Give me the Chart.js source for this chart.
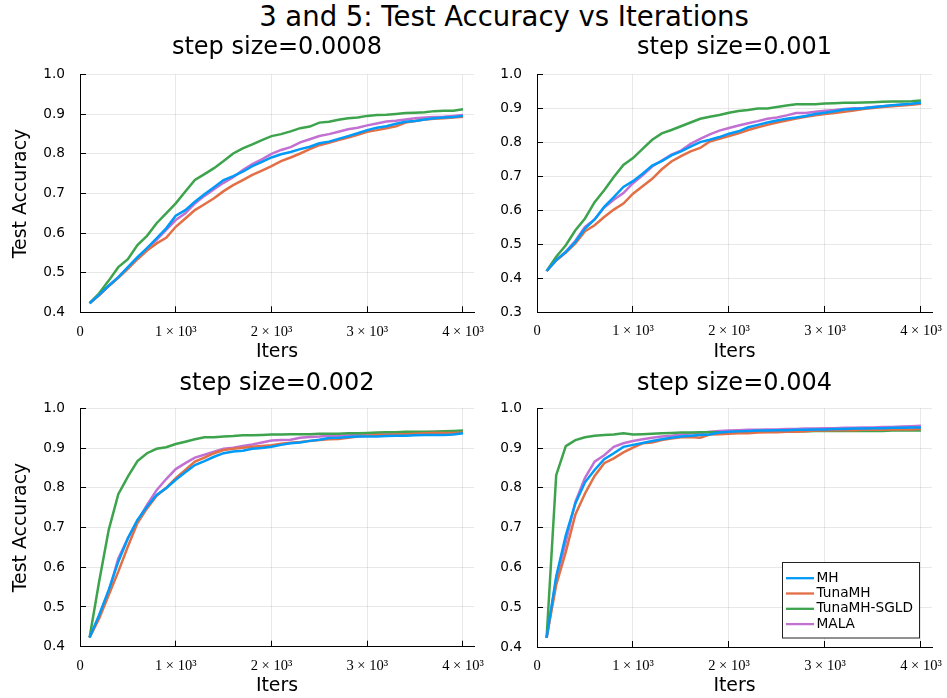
<!DOCTYPE html>
<html>
<head>
<meta charset="utf-8">
<script src="https://cdn.jsdelivr.net/npm/chart.js@4"></script>
<style>
  body { margin: 0; background: #fff; width: 947px; height: 698px; position: relative; overflow: hidden; font-family: "DejaVu Sans", sans-serif; }
  #title { position: absolute; left: 254px; width: 500px; top: 0; text-align: center; font-size: 27.5px; line-height: 32px; color: #000; white-space: nowrap; }
  canvas { position: absolute; }
</style>
</head>
<body>
<div id="title">3 and 5: Test Accuracy vs Iterations</div>
<canvas id="c1"></canvas>
<canvas id="c2"></canvas>
<canvas id="c3"></canvas>
<canvas id="c4"></canvas>
<script>
const iters = [100, 200, 300, 400, 500, 600, 700, 800, 900, 1000,
  1100, 1200, 1300, 1400, 1500, 1600, 1700, 1800, 1900, 2000,
  2100, 2200, 2300, 2400, 2500, 2600, 2700, 2800, 2900, 3000,
  3100, 3200, 3300, 3400, 3500, 3600, 3700, 3800, 3900, 4000];

const seriesNames = ["MH", "TunaMH", "TunaMH-SGLD", "MALA"];
const seriesColors = ["#009af9", "#e26f46", "#3da44d", "#c271d2"];
const stepSizes = ["0.0008", "0.001", "0.002", "0.004"];

const xTicks = [0, 1000, 2000, 3000, 4000];
const yTicks = [0.4, 0.5, 0.6, 0.7, 0.8, 0.9, 1.0];
const yTicksWide = [0.3, 0.4, 0.5, 0.6, 0.7, 0.8, 0.9, 1.0];

// step size = 0.0008
const mh0008 = [.423,.444,.467,.488,.514,.539,.562,.587,.612,.644,.658,.679,.698,.716,.734,.744,.755,.769,.780,.791,.799,.805,.812,.818,.827,.831,.838,.845,.852,.860,.866,.870,.876,.881,.883,.887,.890,.892,.893,.896];
const tuna0008 = [.423,.443,.466,.487,.510,.534,.556,.574,.588,.616,.637,.658,.673,.688,.706,.721,.734,.747,.758,.769,.782,.791,.801,.812,.822,.828,.835,.841,.848,.856,.860,.865,.870,.879,.883,.887,.889,.890,.892,.894];
const sgld0008 = [.423,.448,.480,.514,.534,.570,.593,.625,.650,.675,.705,.734,.749,.764,.782,.801,.814,.824,.835,.845,.850,.857,.865,.869,.879,.881,.886,.890,.892,.896,.898,.899,.901,.903,.904,.905,.908,.909,.909,.913];
const mala0008 = [.423,.444,.467,.489,.513,.537,.561,.583,.608,.633,.650,.675,.694,.711,.727,.741,.759,.774,.786,.800,.810,.817,.829,.837,.845,.850,.856,.862,.866,.872,.877,.882,.884,.887,.890,.892,.893,.894,.896,.898];

// step size = 0.001
const mh001 = [.421,.453,.477,.507,.546,.573,.610,.639,.669,.686,.708,.732,.745,.762,.774,.788,.801,.808,.816,.826,.833,.845,.852,.859,.865,.870,.874,.878,.884,.888,.892,.897,.899,.901,.904,.907,.910,.912,.914,.917];
const tuna001 = [.421,.452,.475,.502,.538,.556,.580,.602,.620,.649,.671,.693,.721,.744,.760,.774,.784,.803,.811,.819,.827,.837,.845,.852,.859,.865,.871,.876,.880,.884,.887,.891,.894,.899,.902,.905,.907,.909,.911,.914];
const sgld001 = [.421,.463,.497,.541,.576,.624,.659,.698,.734,.754,.781,.808,.827,.837,.848,.859,.870,.876,.881,.888,.893,.896,.900,.900,.905,.909,.913,.913,.913,.915,.916,.917,.917,.918,.919,.920,.921,.921,.922,.924];
const mala001 = [.421,.453,.478,.510,.551,.573,.608,.631,.651,.680,.703,.729,.747,.764,.776,.796,.811,.824,.835,.843,.850,.857,.863,.870,.874,.880,.887,.887,.891,.894,.896,.899,.901,.902,.905,.907,.909,.911,.913,.917];

// step size = 0.002
const mh002 = [.423,.480,.543,.614,.673,.719,.752,.782,.799,.820,.839,.857,.867,.878,.887,.891,.893,.898,.900,.903,.908,.912,.914,.918,.921,.925,.926,.928,.929,.929,.929,.930,.931,.931,.932,.933,.933,.933,.934,.937];
const tuna002 = [.423,.471,.530,.589,.652,.711,.748,.780,.800,.824,.845,.866,.876,.887,.895,.898,.901,.903,.905,.907,.911,.913,.915,.918,.920,.922,.923,.926,.929,.931,.933,.933,.934,.935,.936,.937,.938,.938,.938,.939];
const sgld002 = [.423,.564,.694,.784,.828,.867,.887,.898,.902,.910,.916,.922,.927,.927,.929,.930,.932,.932,.933,.934,.934,.935,.935,.935,.936,.936,.936,.937,.937,.938,.939,.940,.940,.941,.941,.941,.941,.942,.943,.944];
const mala002 = [.423,.476,.538,.622,.673,.716,.757,.794,.822,.847,.862,.876,.883,.891,.898,.901,.905,.909,.914,.919,.920,.921,.926,.928,.929,.931,.931,.933,.934,.936,.937,.938,.938,.939,.939,.940,.941,.941,.941,.941];

// step size = 0.004
const mh004 = [.423,.577,.681,.761,.814,.845,.872,.887,.903,.908,.913,.918,.922,.926,.929,.931,.933,.934,.939,.941,.942,.943,.944,.944,.945,.945,.946,.946,.947,.947,.948,.948,.949,.949,.950,.950,.951,.951,.952,.952];
const tuna004 = [.423,.556,.639,.733,.786,.830,.862,.874,.889,.901,.912,.914,.920,.924,.927,.928,.926,.934,.935,.936,.937,.937,.939,.940,.940,.941,.941,.942,.944,.944,.945,.945,.945,.946,.946,.946,.947,.947,.947,.948];
const sgld004 = [.423,.832,.905,.920,.927,.931,.933,.934,.937,.934,.935,.936,.937,.938,.939,.939,.940,.940,.940,.940,.941,.941,.941,.941,.942,.942,.942,.942,.943,.943,.943,.943,.943,.943,.943,.943,.944,.944,.944,.944];
const mala004 = [.423,.570,.665,.765,.825,.866,.882,.903,.912,.918,.922,.926,.929,.931,.934,.937,.938,.941,.943,.944,.945,.946,.946,.947,.947,.948,.948,.949,.949,.950,.950,.951,.951,.952,.952,.953,.953,.954,.955,.956];

const panelSeries = [
  [mh0008, tuna0008, sgld0008, mala0008],
  [mh001, tuna001, sgld001, mala001],
  [mh002, tuna002, sgld002, mala002],
  [mh004, tuna004, sgld004, mala004],
];
const panelYTicks = [yTicks, yTicksWide, yTicks, yTicks];

// page geometry: canvas box and wanted plot area, in page pixels
const boxes = [
  { box: [0, 30, 490, 340], area: [80, 74.7, 474, 312.3], titleY: 47.5, xlabelY: 352, ylabel: true },
  { box: [490, 30, 457, 340], area: [537, 74.7, 932, 312], titleY: 47.5, xlabelY: 352, ylabel: false },
  { box: [0, 363, 490, 335], area: [80, 408.3, 474, 646.7], titleY: 383.3, xlabelY: 686, ylabel: true },
  { box: [490, 363, 457, 335], area: [537, 408.3, 932, 647], titleY: 383.3, xlabelY: 686, ylabel: false },
];

const X_MAX = 4115;
const gridColor = "rgba(0,0,0,0.09)";
const axisFont = 18.9;
const tickFont = 13.7;

Chart.defaults.font.family = '"DejaVu Sans", sans-serif';
Chart.defaults.color = "#000";

// legend drawn inside the plot, bottom right
const insetLegend = {
  id: "insetLegend",
  afterDraw(chart, _args, opts) {
    if (!opts.display) return;
    const { ctx, chartArea } = chart;
    const w = 137, h = 75.5;
    const x = chartArea.right - 13 - w;
    const y = chartArea.bottom - 9.3 - h;
    ctx.save();
    ctx.fillStyle = "#fff";
    ctx.fillRect(x, y, w, h);
    ctx.strokeStyle = "#222";
    ctx.lineWidth = 1;
    ctx.strokeRect(Math.round(x) + 0.5, Math.round(y) + 0.5, w, h);
    ctx.font = tickFont + 'px "DejaVu Sans"';
    ctx.textBaseline = "middle";
    ctx.textAlign = "left";
    chart.data.datasets.forEach((ds, i) => {
      const cy = y + 16 + i * 15.3;
      ctx.strokeStyle = ds.borderColor;
      ctx.lineWidth = 2.3;
      ctx.beginPath();
      ctx.moveTo(x + 4, cy);
      ctx.lineTo(x + 32, cy);
      ctx.stroke();
      ctx.fillStyle = "#000";
      ctx.fillText(ds.label, x + 34.5, cy);
    });
    ctx.restore();
  },
};

function xLabel(v) {
  if (v === 0) return "0";
  return (v / 1000) + " × 10³";
}

function makePanel(idx) {
  const g = boxes[idx];
  const [cl, ct, cw, ch] = g.box;
  const [al, at, ar, ab] = g.area;
  const canvas = document.getElementById("c" + (idx + 1));
  canvas.width = cw;
  canvas.height = ch;
  canvas.style.left = cl + "px";
  canvas.style.top = ct + "px";

  const titlePadTop = g.titleY - ct - 14.4;
  const titlePadBottom = at - ct - 28.8 - titlePadTop;
  const ticksY = panelYTicks[idx];

  new Chart(canvas, {
    type: "line",
    data: {
      datasets: panelSeries[idx].map((vals, i) => ({
        label: seriesNames[i],
        data: iters.map((x, j) => ({ x, y: vals[j] })),
        borderColor: seriesColors[i],
        backgroundColor: seriesColors[i],
        borderWidth: 2.5,
        pointRadius: 0,
        tension: 0,
        fill: false,
      })),
    },
    options: {
      responsive: false,
      animation: false,
      layout: { padding: { left: 0, top: 0, right: cw - (ar - cl), bottom: 0 } },
      plugins: {
        legend: { display: false },
        tooltip: { enabled: false },
        title: {
          display: true,
          text: "step size=" + stepSizes[idx],
          fullSize: false,
          color: "#000",
          font: { size: 24, weight: "normal", lineHeight: 1.2 },
          padding: { top: titlePadTop, bottom: titlePadBottom },
        },
        insetLegend: { display: idx === 3 },
      },
      scales: {
        x: {
          type: "linear",
          min: 0,
          max: X_MAX,
          afterBuildTicks: (s) => { s.ticks = xTicks.map((v) => ({ value: v })); },
          afterFit: (s) => { s.height = ct + ch - ab; s.paddingLeft = 0; s.paddingRight = 0; },
          grid: { color: gridColor, tickColor: "#000", tickLength: -6, tickWidth: 1 },
          border: { color: "#000", width: 1 },
          ticks: {
            autoSkip: false,
            maxRotation: 0,
            padding: 16.8,
            font: { family: '"Liberation Serif", serif', size: 14.5 },
            callback: (v) => xLabel(v),
          },
          title: {
            display: true,
            text: "Iters",
            font: { size: axisFont },
            padding: { top: 0, bottom: ch - (g.xlabelY - ct) - axisFont * 0.6 },
          },
        },
        y: {
          type: "linear",
          min: ticksY[0],
          max: ticksY[ticksY.length - 1],
          afterBuildTicks: (s) => { s.ticks = ticksY.map((v) => ({ value: v })); },
          afterFit: (s) => { s.width = al - cl; s.paddingTop = 0; s.paddingBottom = 0; },
          grid: { color: gridColor, tickColor: "#000", tickLength: -6, tickWidth: 1 },
          border: { color: "#000", width: 1 },
          ticks: {
            padding: 21,
            font: { size: tickFont },
            callback: (v) => v.toFixed(1),
          },
          title: {
            display: g.ylabel,
            text: "Test Accuracy",
            font: { size: axisFont },
            padding: { top: 21 - axisFont * 0.6, bottom: 0 },
          },
        },
      },
    },
    plugins: [insetLegend],
  });
}

[0, 1, 2, 3].forEach(makePanel);
</script>
</body>
</html>
